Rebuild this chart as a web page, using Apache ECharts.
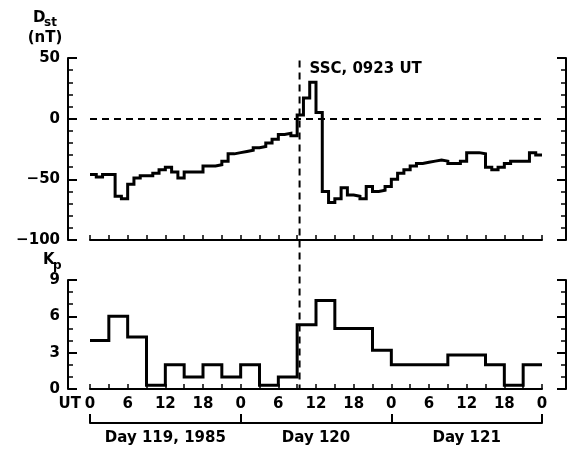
<!DOCTYPE html>
<html>
<head>
<meta charset="utf-8">
<script src="https://cdn.jsdelivr.net/npm/echarts/dist/echarts.min.js"></script>
<style>
  html, body { margin: 0; padding: 0; background: #fff; }
  #chart { width: 570px; height: 452px; }
</style>
</head>
<body>
<div id="chart"></div>
<script>
// hourly Dst (nT), day 119 00 UT .. day 121 24 UT
const dstHourly = [
    -46, -48, -46, -46, -64, -66, -54, -49, -47, -47, -45, -42,
    -40, -44, -49, -44, -44, -44, -39, -39, -38, -35, -29, -28,
    -27, -26, -24, -23, -20, -17, -13, -12, -14, 3, 17, 30,
    5, -60, -69, -66, -57, -63, -64, -66, -56, -60, -59, -56,
    -50, -45, -42, -39, -37, -36, -35, -34, -35, -37, -37, -35,
    -28, -28, -29, -40, -42, -40, -37, -35, -35, -35, -28, -30
];
// 3-hourly Kp
const kpValues = [
    4, 6, 4.3, 0.3, 2, 1, 2, 1,
    2, 0.3, 1, 5.3, 7.3, 5, 5, 3.2,
    2, 2, 2, 2.8, 2.8, 2, 0.3, 2
];
const dayLabels = ["Day 119, 1985", "Day 120", "Day 121"];
const sscHour = 24 + 9 + 23 / 60;   // SSC 0923 UT, day 120
const totalHours = 72;

const font = "DejaVu Sans";

function stepData(values, width) {
    let out = [];
    for (let i = 0; i < values.length; i++) {
        out.push([i * width, values[i]]);
    }
    out.push([values.length * width, values[values.length - 1]]);
    return out;
}

function minus(v) {
    return String(v).replace("-", "\u2212");
}

const axisLine = { show: true, onZero: false, lineStyle: { color: "#000", width: 2 } };

function timeAxis(grid, labels) {
    return {
        type: "value", gridIndex: grid, min: 0, max: totalHours, interval: 3,
        axisLine: axisLine,
        axisTick: { show: true, inside: true, length: 5, lineStyle: { color: "#000", width: 1.5 } },
        axisLabel: {
            show: labels, margin: 8, showMinLabel: true, showMaxLabel: true,
            color: "#000", fontFamily: font, fontWeight: "bold", fontSize: 15,
            formatter: function (v) { return v % 6 === 0 ? String(v % 24) : ""; }
        },
        splitLine: { show: false }
    };
}

function valueAxis(grid, pos, min, max, interval, minorSplit, labels) {
    return {
        type: "value", gridIndex: grid, position: pos, offset: pos === "left" ? 22 : 24,
        min: min, max: max, interval: interval,
        axisLine: axisLine,
        axisTick: { show: true, inside: true, length: 9, lineStyle: { color: "#000", width: 2 } },
        minorTick: { show: true, splitNumber: minorSplit, length: 5, lineStyle: { color: "#000", width: 1.5 } },
        axisLabel: {
            show: labels, margin: 8, color: "#000", fontFamily: font, fontWeight: "bold", fontSize: 15,
            formatter: minus
        },
        splitLine: { show: false },
        minorSplitLine: { show: false }
    };
}

const chart = echarts.init(document.getElementById("chart"));

const option = {
    animation: false,
    backgroundColor: "#fff",
    textStyle: { fontFamily: font },
    grid: [
        { left: 90, right: 28, top: 58, height: 182 },
        { left: 90, right: 28, top: 280, height: 109 }
    ],
    xAxis: [
        timeAxis(0, false),
        timeAxis(1, true),
        {
            type: "category", gridIndex: 1, position: "bottom", offset: 34,
            data: dayLabels, boundaryGap: true,
            axisLine: axisLine,
            axisTick: { show: true, inside: true, length: 9, interval: 0, alignWithLabel: false, lineStyle: { color: "#000", width: 2 } },
            axisLabel: { interval: 0, margin: 8, color: "#000", fontFamily: font, fontWeight: "bold", fontSize: 15 }
        }
    ],
    yAxis: [
        valueAxis(0, "left", -100, 50, 50, 5, true),
        valueAxis(0, "right", -100, 50, 50, 5, false),
        valueAxis(1, "left", 0, 9, 3, 3, true),
        valueAxis(1, "right", 0, 9, 3, 3, false)
    ],
    series: [
        {
            name: "Dst", type: "line", xAxisIndex: 0, yAxisIndex: 0,
            step: "end", showSymbol: false, silent: true,
            data: stepData(dstHourly, 1),
            lineStyle: { color: "#000", width: 3, join: "miter" },
            markLine: {
                silent: true, symbol: "none", animation: false,
                label: { show: false },
                lineStyle: { color: "#000", width: 2, type: [7, 5] },
                data: [{ yAxis: 0 }]
            }
        },
        {
            name: "Kp", type: "line", xAxisIndex: 1, yAxisIndex: 2,
            step: "end", showSymbol: false, silent: true,
            data: stepData(kpValues, 3),
            lineStyle: { color: "#000", width: 3, join: "miter" }
        }
    ]
};
chart.setOption(option);

// SSC marker through both panels, placed with the axes' own scales
const sscX = chart.convertToPixel({ xAxisIndex: 0 }, sscHour);
const sscTop = chart.convertToPixel({ yAxisIndex: 0 }, 48);
const sscBottom = chart.convertToPixel({ yAxisIndex: 2 }, 0);

const txt = function (x, y, text, size, align) {
    return {
        type: "text", x: x, y: y, silent: true,
        style: {
            text: text, fill: "#000", font: "bold " + size + "px '" + font + "'",
            textAlign: align || "left", textVerticalAlign: "middle"
        }
    };
};

chart.setOption({
    graphic: [
        {
            type: "line", silent: true,
            shape: { x1: sscX, y1: sscTop, x2: sscX, y2: sscBottom },
            style: { stroke: "#000", lineWidth: 2, lineDash: [7, 5] }
        },
        txt(sscX + 10, 69, "SSC, 0923 UT", 15),
        txt(33, 18, "D", 15),
        txt(44, 23, "st", 12),
        txt(45, 38, "(nT)", 15, "center"),
        txt(43, 260, "K", 15),
        txt(53, 266, "p", 12),
        txt(81, 404, "UT", 15, "right")
    ]
});
</script>
</body>
</html>
